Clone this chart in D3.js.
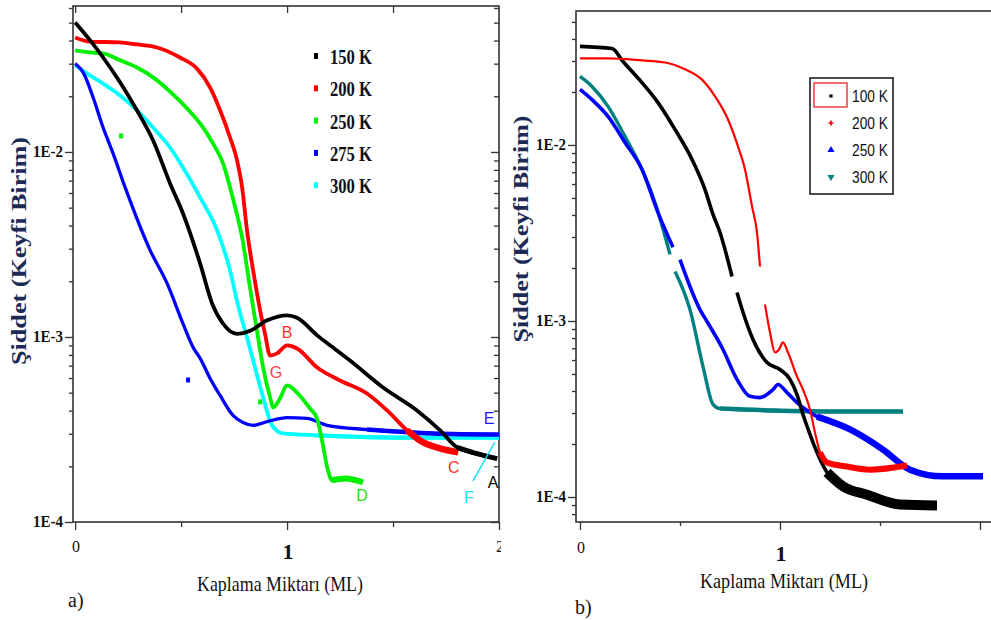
<!DOCTYPE html>
<html>
<head>
<meta charset="utf-8">
<script src="https://cdn.jsdelivr.net/npm/d3@7/dist/d3.min.js"></script>
<style>
html,body{margin:0;padding:0;background:#fff;}
svg{display:block;}
.serif{font-family:"Liberation Serif","Times New Roman",serif;}
.sans{font-family:"Liberation Sans",Arial,sans-serif;}
</style>
</head>
<body>
<svg id="chart" width="991" height="620"></svg>
<script>
// ================= DATA =================
// Panel a)  x = Kaplama Miktarı (ML), y = Şiddet (Keyfi Birim)
const seriesA = ["150 K", "200 K", "250 K", "275 K", "300 K"];
const a150 = [[0,0.0501],[0.071,0.0401],[0.132,0.0324],[0.212,0.0238],[0.292,0.01675],[0.368,0.01154],[0.448,0.00676],[0.509,0.00465],[0.590,0.00249],[0.646,0.00152],[0.698,0.00118],[0.764,0.00104],[0.825,0.00108],[0.906,0.00123],[1.0,0.00131],[1.047,0.00127],[1.142,0.00102],[1.217,0.000877],[1.297,0.000746],[1.453,0.000533],[1.613,0.000401],[1.722,0.000313],[1.802,0.000253],[1.896,0.000234],[1.991,0.000220]];
const a200 = [[0,0.0416],[0.071,0.0395],[0.212,0.0391],[0.292,0.0381],[0.387,0.0367],[0.495,0.0324],[0.575,0.0282],[0.637,0.0223],[0.684,0.0168],[0.731,0.01197],[0.764,0.0090],[0.788,0.00643],[0.811,0.00377],[0.840,0.00229],[0.873,0.00139],[0.896,0.00104],[0.920,0.000794],[0.953,0.000815],[1.0,0.000900],[1.047,0.000867],[1.142,0.000684],[1.250,0.000582],[1.377,0.000495],[1.472,0.000401],[1.566,0.000313],[1.627,0.000276],[1.722,0.000250],[1.807,0.000238]];
const a250 = [[0,0.0354],[0.071,0.0345],[0.132,0.0341],[0.212,0.0313],[0.292,0.0286],[0.368,0.0253],[0.448,0.0212],[0.528,0.0172],[0.604,0.01355],[0.651,0.0111],[0.698,0.00867],[0.731,0.00643],[0.759,0.00483],[0.788,0.00345],[0.825,0.00185],[0.858,0.00108],[0.887,0.000684],[0.920,0.000471],[0.934,0.000416],[0.967,0.000466],[1.0,0.000547],[1.047,0.000501],[1.108,0.000411],[1.142,0.000362],[1.165,0.000276],[1.193,0.000190],[1.212,0.000168],[1.274,0.000172],[1.358,0.000164]];
const a275 = [[0,0.0301],[0.038,0.0269],[0.085,0.0197],[0.132,0.01355],[0.179,0.00982],[0.236,0.00643],[0.354,0.00294],[0.434,0.00195],[0.509,0.00118],[0.557,0.000877],[0.590,0.000766],[0.637,0.000597],[0.684,0.000483],[0.745,0.000377],[0.792,0.000345],[0.840,0.000333],[0.906,0.000349],[1.0,0.000367],[1.094,0.000363],[1.189,0.000333],[1.377,0.000316],[1.689,0.000301],[2.0,0.000297]];
const a300 = [[0,0.0294],[0.057,0.0265],[0.132,0.0234],[0.212,0.0202],[0.292,0.0168],[0.368,0.01355],[0.448,0.01057],[0.509,0.00824],[0.590,0.00567],[0.670,0.00377],[0.731,0.00229],[0.769,0.00148],[0.811,0.000993],[0.840,0.000746],[0.887,0.000471],[0.929,0.000333],[0.981,0.000301],[1.142,0.000294],[1.533,0.000286],[2.0,0.000286]];
// isolated stray points in panel a (series index: 2 = 250 K, 3 = 275 K)
const strayA = [[0.217,0.01213],[0.533,0.000582],[0.873,0.000443]];
const strayASeries = [2, 3, 2];

// Panel b)
const seriesB = ["100 K", "200 K", "250 K", "300 K"];
const b100 = [[0,0.0363],[0.16,0.0353],[0.215,0.0298],[0.31,0.0226],[0.39,0.0174],[0.475,0.01225],[0.56,0.00828],[0.625,0.00558],[0.665,0.00403],[0.70,0.00318],[0.76,0.00179],null,[0.785,0.00145],[0.815,0.00112],[0.865,0.000785],[0.935,0.000581],[1.0,0.000530],[1.05,0.000466],[1.085,0.000382],[1.115,0.000294],[1.15,0.000227],[1.175,0.000191],[1.235,0.000138],[1.315,0.000115],[1.435,0.000103],[1.60,0.0000906],[1.785,0.0000895]];
const b200 = [[0,0.0310],[0.14,0.0310],[0.31,0.0302],[0.425,0.0294],[0.525,0.0269],[0.61,0.0235],[0.675,0.0189],[0.74,0.01396],[0.79,0.00981],[0.825,0.00726],[0.86,0.00448],[0.885,0.00318],[0.90,0.00204],null,[0.925,0.00124],[0.95,0.000861],[0.975,0.000662],[0.995,0.000689],[1.015,0.000755],[1.04,0.000662],[1.085,0.000484],[1.115,0.000408],[1.15,0.000314],[1.175,0.000232],[1.20,0.000179],[1.235,0.000157],[1.335,0.000149],[1.45,0.000143],[1.635,0.000151]];
const b250 = [[0,0.0207],[0.06,0.0181],[0.14,0.01452],[0.225,0.01033],[0.31,0.00726],[0.39,0.00413],[0.465,0.00262],null,[0.50,0.00223],[0.60,0.00116],[0.635,0.000993],[0.715,0.000689],[0.785,0.000466],[0.85,0.000373],[0.90,0.000367],[0.965,0.000408],[0.99,0.000436],[1.035,0.000392],[1.085,0.000344],[1.185,0.000286],[1.35,0.000242],[1.515,0.000186],[1.65,0.000143],[1.815,0.000131],[2.015,0.000131]];
const b300 = [[0,0.0245],[0.06,0.0215],[0.14,0.01656],[0.225,0.01118],[0.31,0.00726],[0.375,0.00471],[0.45,0.00239],null,[0.475,0.00191],[0.55,0.00116],[0.615,0.000551],[0.665,0.000336],[0.70,0.000318],[0.965,0.000310],[1.30,0.000306],[1.615,0.000306]];

// Ticks
const xTicksA = [0, 1, 2];
const xTickLabelsA = ["0", "1", "2"];
const xMinorA = [0.5, 1.5];
const xTicksB = [0, 1, 2];
const xTickLabelsB = ["0", "1", ""];
const xMinorB = [0.5, 1.5];
const yTicks = [1e-2, 1e-3, 1e-4];
const yTickLabels = ["1E-2", "1E-3", "1E-4"];

// Annotations in panel a
const annotLetters = ["B", "G", "E", "C", "F", "A", "D"];
const annotX = [1.0, 0.948, 1.953, 1.787, 1.858, 1.972, 1.354];
const annotY = [0.000988, 0.000600, 0.000339, 0.000184, 0.000127, 0.000153, 0.000130];
const pointerF = [[1.877, 0.000167], [1.981, 0.000270]];

const xTitle = "Kaplama Miktarı (ML)";
const yTitle = "Şiddet (Keyfi Birim)";

// ================= STYLE =================
const colorsA = ["#000000", "#ff0000", "#00f000", "#0000ff", "#00ffff"];
const colorsB = ["#000000", "#ff0000", "#0000ff", "#008080"];
const annotColors = ["#ff3030", "#ff4040", "#1a1aff", "#ff3030", "#10e0f0", "#000000", "#22dd22"];
const axisCol = "#333";
const titleCol = "#1d2a55";

const svg = d3.select("#chart");

function minorLog(dom) {
  const out = [];
  for (let k = -6; k <= 0; k++) for (let m = 2; m <= 9; m++) {
    const v = m * Math.pow(10, k);
    if (v > dom[0] * 1.0001 && v < dom[1] * 0.9999) out.push(v);
  }
  return out;
}
function tickAxis(g, axis, vals, size) {
  g.call(axis.tickValues(vals).tickSize(size).tickSizeOuter(0).tickFormat(""));
  g.select(".domain").remove();
  g.selectAll("line").attr("stroke", axisCol).attr("stroke-width", 1.3);
  g.selectAll("text").remove();
}
function txt(g, cls, x, y, size, weight, fill, s) {
  return g.append("text").attr("class", cls).attr("x", x).attr("y", y)
    .style("font-size", size + "px").style("font-weight", weight).attr("fill", fill).text(s);
}

// ================= PANEL A =================
const A = {l: 73, r: 499, t: 6, b: 522};
const xA = d3.scaleLinear().domain([-0.01, 2]).range([A.l, A.r]);
const yA = d3.scaleLog().domain([1e-4, 0.0615]).range([A.b, A.t]);
const gA = svg.append("g");

svg.append("clipPath").attr("id", "clipA").append("rect")
  .attr("x", A.l).attr("y", A.t).attr("width", A.r - A.l).attr("height", A.b - A.t);
svg.append("clipPath").attr("id", "clipAlab").append("rect")
  .attr("x", 0).attr("y", 0).attr("width", 501).attr("height", 620);

tickAxis(gA.append("g").attr("transform", `translate(0,${A.b})`), d3.axisBottom(xA), xTicksA, 8);
tickAxis(gA.append("g").attr("transform", `translate(0,${A.b})`), d3.axisBottom(xA), xMinorA, 5);
tickAxis(gA.append("g").attr("transform", `translate(0,${A.t})`), d3.axisBottom(xA), [0, 0.5, 1, 1.5], 7);
tickAxis(gA.append("g").attr("transform", `translate(${A.l},0)`), d3.axisLeft(yA), yTicks, 8);
tickAxis(gA.append("g").attr("transform", `translate(${A.l},0)`), d3.axisLeft(yA), minorLog(yA.domain()), 4);
tickAxis(gA.append("g").attr("transform", `translate(${A.r},0)`), d3.axisLeft(yA), yTicks, 8);
tickAxis(gA.append("g").attr("transform", `translate(${A.r},0)`), d3.axisLeft(yA), minorLog(yA.domain()), 5);

gA.append("rect").attr("x", A.l).attr("y", A.t).attr("width", A.r - A.l).attr("height", A.b - A.t)
  .attr("fill", "none").attr("stroke", axisCol).attr("stroke-width", 1.6);

gA.selectAll(".ylab").data(yTicks).join("text").attr("class", "serif ylab")
  .attr("x", A.l - 10).attr("y", d => yA(d) + 5).attr("text-anchor", "end")
  .style("font-weight", "bold").style("font-size", "16px").attr("fill", "#111")
  .attr("textLength", 30).attr("lengthAdjust", "spacingAndGlyphs")
  .text((d, i) => yTickLabels[i]);

gA.append("g").attr("clip-path", "url(#clipAlab)").selectAll("text").data(xTicksA).join("text")
  .attr("class", "serif")
  .attr("x", d => xA(d) + 1).attr("y", d => d === 1 ? A.b + 37 : A.b + 30)
  .attr("text-anchor", "middle")
  .style("font-weight", d => d === 1 ? "bold" : "normal")
  .style("font-size", d => (d === 1 ? 22 : 16) + "px").attr("fill", "#111")
  .text((d, i) => xTickLabelsA[i]);

txt(gA, "serif", 280, 591, 22, "normal", "#111", xTitle).attr("text-anchor", "middle")
  .attr("textLength", 166).attr("lengthAdjust", "spacingAndGlyphs");
gA.append("text").attr("class", "serif").attr("transform", "translate(26,251) rotate(-90)")
  .attr("text-anchor", "middle").style("font-weight", "bold").style("font-size", "20px").attr("fill", titleCol)
  .attr("textLength", 228).attr("lengthAdjust", "spacingAndGlyphs").text(yTitle);
txt(gA, "serif", 68, 607, 20, "normal", "#111", "a)");

const lineA = d3.line().defined(d => d !== null).x(d => xA(d[0])).y(d => yA(d[1])).curve(d3.curveMonotoneX);
const dataA = [a150, a200, a250, a275, a300];
const widthA = [3.8, 3.8, 3.8, 3.3, 3.8];
const noiseFromA = [1.75, 1.55, 1.2, 1.25, 1.0];
const noiseWA = [5, 6.5, 6, 4.6, 4.2];
const orderA = [4, 3, 2, 1, 0];
const plotA = gA.append("g").attr("clip-path", "url(#clipA)");
orderA.forEach(i => {
  plotA.append("path").attr("d", lineA(dataA[i])).attr("fill", "none")
    .attr("stroke", colorsA[i]).attr("stroke-width", widthA[i]).attr("stroke-linejoin", "round");
  const tail = dataA[i].filter(d => d && d[0] >= noiseFromA[i]);
  plotA.append("path").attr("d", lineA(tail)).attr("fill", "none")
    .attr("stroke", colorsA[i]).attr("stroke-width", noiseWA[i]);
});
plotA.selectAll(".stray").data(strayA).join("rect")
  .attr("x", d => xA(d[0]) - 2).attr("y", d => yA(d[1]) - 3).attr("width", 4).attr("height", 5)
  .attr("fill", (d, i) => colorsA[strayASeries[i]]);

const legA = gA.append("g");
seriesA.forEach((s, i) => {
  const cy = 57 + i * 32.3;
  legA.append("rect").attr("x", 314).attr("y", cy - 4).attr("width", 4).attr("height", 6).attr("fill", colorsA[i]);
  txt(legA, "serif", 330, cy + 7, 20, "bold", "#111", s)
    .attr("textLength", 42).attr("lengthAdjust", "spacingAndGlyphs");
});

gA.selectAll(".ann").data(annotLetters).join("text").attr("class", "sans ann")
  .attr("x", (d, i) => xA(annotX[i])).attr("y", (d, i) => yA(annotY[i]))
  .attr("text-anchor", "middle").style("font-size", "16px")
  .attr("fill", (d, i) => annotColors[i]).text(d => d);
gA.append("line").attr("x1", xA(pointerF[0][0])).attr("y1", yA(pointerF[0][1]))
  .attr("x2", xA(pointerF[1][0])).attr("y2", yA(pointerF[1][1]))
  .attr("stroke", "#10e0f0").attr("stroke-width", 1.4);

// ================= PANEL B =================
const B = {l: 576, r: 1005, t: 11, b: 522};
const xB = d3.scaleLinear().domain([-0.02, 2.125]).range([B.l, B.r]);
const yB = d3.scaleLog().domain([Math.pow(10, -4.142), Math.pow(10, -1.239)]).range([B.b, B.t]);
const gB = svg.append("g");
svg.append("clipPath").attr("id", "clipB").append("rect")
  .attr("x", B.l).attr("y", B.t).attr("width", B.r - B.l).attr("height", B.b - B.t);

tickAxis(gB.append("g").attr("transform", `translate(0,${B.b})`), d3.axisBottom(xB), xTicksB, 8);
tickAxis(gB.append("g").attr("transform", `translate(0,${B.b})`), d3.axisBottom(xB), xMinorB, 4);
tickAxis(gB.append("g").attr("transform", `translate(${B.l},0)`), d3.axisLeft(yB), yTicks, 8);
tickAxis(gB.append("g").attr("transform", `translate(${B.l},0)`), d3.axisLeft(yB), minorLog(yB.domain()), 4);

gB.append("rect").attr("x", B.l).attr("y", B.t).attr("width", B.r - B.l).attr("height", B.b - B.t)
  .attr("fill", "none").attr("stroke", axisCol).attr("stroke-width", 1.6);

gB.selectAll(".ylab").data(yTicks).join("text").attr("class", "serif ylab")
  .attr("x", B.l - 10).attr("y", d => yB(d) + 5).attr("text-anchor", "end")
  .style("font-weight", "bold").style("font-size", "16px").attr("fill", "#111")
  .attr("textLength", 30).attr("lengthAdjust", "spacingAndGlyphs")
  .text((d, i) => yTickLabels[i]);

gB.selectAll(".xlab").data(xTicksB).join("text").attr("class", "serif xlab")
  .attr("x", d => xB(d) + 1).attr("y", d => d === 1 ? B.b + 39 : B.b + 31)
  .attr("text-anchor", "middle")
  .style("font-weight", d => d === 1 ? "bold" : "normal")
  .style("font-size", d => (d === 1 ? 22 : 16) + "px").attr("fill", "#111")
  .text((d, i) => xTickLabelsB[i]);

txt(gB, "serif", 784, 588, 22, "normal", "#111", xTitle).attr("text-anchor", "middle")
  .attr("textLength", 168).attr("lengthAdjust", "spacingAndGlyphs");
gB.append("text").attr("class", "serif").attr("transform", "translate(528,229) rotate(-90)")
  .attr("text-anchor", "middle").style("font-weight", "bold").style("font-size", "20px").attr("fill", titleCol)
  .attr("textLength", 227).attr("lengthAdjust", "spacingAndGlyphs").text(yTitle);
txt(gB, "serif", 575, 614, 20, "normal", "#111", "b)");

const lineB = d3.line().defined(d => d !== null).x(d => xB(d[0])).y(d => yB(d[1])).curve(d3.curveMonotoneX);
const dataB = [b100, b200, b250, b300];
const widthB = [3.6, 2.2, 3.6, 3.4];
const noiseFromB = [1.2, 1.2, 1.1, 0.7];
const noiseWB = [10, 6, 6.5, 4.5];
const orderB = [3, 2, 0, 1];
const plotB = gB.append("g").attr("clip-path", "url(#clipB)");
orderB.forEach(i => {
  plotB.append("path").attr("d", lineB(dataB[i])).attr("fill", "none")
    .attr("stroke", colorsB[i]).attr("stroke-width", widthB[i]).attr("stroke-linejoin", "round");
  const tail = dataB[i].filter(d => d && d[0] >= noiseFromB[i]);
  plotB.append("path").attr("d", lineB(tail)).attr("fill", "none")
    .attr("stroke", colorsB[i]).attr("stroke-width", noiseWB[i]);
});

const legB = gB.append("g");
legB.append("rect").attr("x", 810).attr("y", 78).attr("width", 83).attr("height", 116)
  .attr("fill", "#fff").attr("stroke", "#111").attr("stroke-width", 1.5);
legB.append("rect").attr("x", 814).attr("y", 83).attr("width", 33).attr("height", 24)
  .attr("fill", "none").attr("stroke", "#f03030").attr("stroke-width", 1.4);
const symB = [d3.symbolSquare, d3.symbolCross, d3.symbolTriangle, d3.symbolTriangle];
const symSize = [10, 14, 22, 22];
seriesB.forEach((s, i) => {
  const cy = 96 + i * 27;
  legB.append("path").attr("d", d3.symbol().type(symB[i]).size(symSize[i])())
    .attr("transform", `translate(831,${cy})` + (i === 3 ? " rotate(180)" : ""))
    .attr("fill", colorsB[i]);
  txt(legB, "sans", 852, cy + 6, 17, "normal", "#111", s)
    .attr("textLength", 36).attr("lengthAdjust", "spacingAndGlyphs");
});
</script>
</body>
</html>
